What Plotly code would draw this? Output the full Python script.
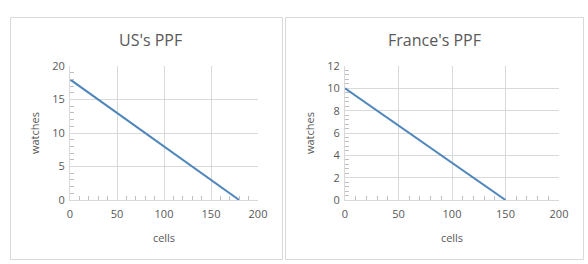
import plotly.graph_objects as go

us_cells = [0, 180]
us_watches = [18, 0]
fr_cells = [0, 150]
fr_watches = [10, 0]
titles = ["US's PPF", "France's PPF"]

W, H = 588, 264
GRAY = "#595959"
GRID = "#d9d9d9"
LINE = "#4f86bb"
FONT = "Open Sans, Liberation Sans, sans-serif"

def px(x):
    return x / W

def py(y):
    return 1 - y / H

fig = go.Figure()
fig.add_trace(go.Scatter(x=us_cells, y=us_watches, mode="lines",
                         line=dict(color=LINE, width=2), xaxis="x", yaxis="y"))
fig.add_trace(go.Scatter(x=fr_cells, y=fr_watches, mode="lines",
                         line=dict(color=LINE, width=2), xaxis="x2", yaxis="y2"))

def xax(domain, anchor):
    return dict(domain=domain, anchor=anchor, range=[0, 200], dtick=50,
                showgrid=True, gridcolor=GRID, gridwidth=1, automargin=False,
                showline=True, linecolor=GRID, linewidth=1, mirror=False,
                zeroline=False, ticks="", ticklabelstandoff=4,
                tickfont=dict(size=11, color=GRAY, family=FONT),
                minor=dict(dtick=10, ticks="inside", ticklen=4, tickcolor="#bfbfbf", showgrid=False),
                title=dict(text="cells", font=dict(size=11, color=GRAY, family=FONT), standoff=14),
                fixedrange=True)

def yax(domain, anchor, rng, dt, mdt):
    return dict(domain=domain, anchor=anchor, range=rng, dtick=dt,
                showgrid=True, gridcolor=GRID, gridwidth=1, automargin=False,
                showline=True, linecolor=GRID, linewidth=1,
                zeroline=False, ticks="", ticklabelstandoff=2,
                tickfont=dict(size=11, color=GRAY, family=FONT),
                minor=dict(dtick=mdt, ticks="inside", ticklen=4, tickcolor="#bfbfbf", showgrid=False),
                title=dict(text="watches", font=dict(size=11, color=GRAY, family=FONT), standoff=10),
                fixedrange=True)

ydom = [py(200), py(66)]
fig.update_layout(
    width=W, height=H, margin=dict(l=0, r=0, t=0, b=0, autoexpand=False),
    paper_bgcolor="white", plot_bgcolor="white", showlegend=False,
    xaxis=xax([px(70), px(258)], "y"),
    yaxis=yax(ydom, "x", [0, 20], 5, 1),
    xaxis2=xax([px(345), px(559)], "y2"),
    yaxis2=yax(ydom, "x2", [0, 12], 2, 0.4),
    shapes=[
        dict(type="rect", xref="paper", yref="paper", x0=px(10.5), x1=px(282.5), y0=py(259.5), y1=py(17.5),
             line=dict(color=GRID, width=1)),
        dict(type="rect", xref="paper", yref="paper", x0=px(285.5), x1=px(583.5), y0=py(259.5), y1=py(17.5),
             line=dict(color=GRID, width=1)),
    ],
    annotations=[
        dict(text=titles[0], xref="paper", yref="paper", x=px(150), y=py(40), showarrow=False,
             font=dict(size=16, color=GRAY, family=FONT), xanchor="center", yanchor="middle"),
        dict(text=titles[1], xref="paper", yref="paper", x=px(434), y=py(40), showarrow=False,
             font=dict(size=16, color=GRAY, family=FONT), xanchor="center", yanchor="middle"),
    ],
)
fig.write_html("out.html")
